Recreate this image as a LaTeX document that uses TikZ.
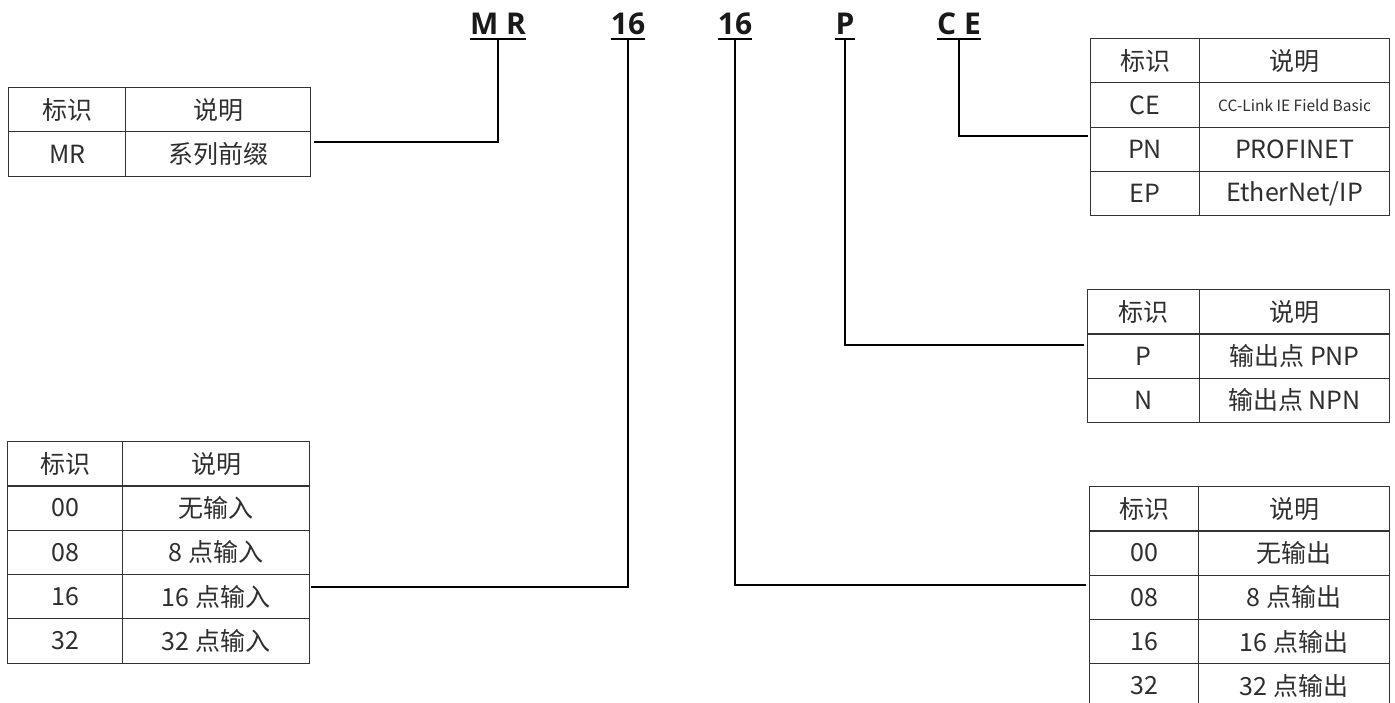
\documentclass[tikz,border=0pt]{standalone}
\usepackage{fontspec}
\setmainfont{Noto Sans CJK SC}
\newfontfamily\labfont{Open Sans}
\usetikzlibrary{matrix}
\begin{document}
\begin{tikzpicture}[x=1pt,y=-1pt,
  code/.style={font=\labfont\bfseries\fontsize{30}{30}\selectfont, inner sep=0pt, anchor=base, text=black!90},
  uline/.style={line width=2pt},
  conn/.style={line width=2pt, line cap=rect},
  tbl/.style={matrix of nodes, anchor=north west, inner sep=0pt, outer sep=0pt,
    column sep=-1.2pt, row sep=-1.2pt,
    nodes={draw=black!80, line width=1.2pt, minimum height=44.3pt, inner sep=0pt,
      anchor=center, font=\fontsize{25}{25}\selectfont, text=black!82}},
  small/.style={font=\fontsize{15.5}{15.5}\selectfont},
]
\useasboundingbox[fill=white] (0,0) rectangle (1395,703);

% code labels
\node[code] (mr)  at (498,35) {M R};
\node[code] (n1)  at (628,35) {16};
\node[code] (n2)  at (735,35) {16};
\node[code] (pp)  at (845,35) {P};
\node[code] (ce)  at (959,35) {C E};
\foreach \n in {mr,n1,n2,pp,ce}
  \draw[uline] ([yshift=-4pt]\n.base west) -- ([yshift=-4pt]\n.base east);

% tables
\matrix (tmr) [tbl, column 1/.style={nodes={minimum width=117pt}},
  column 2/.style={nodes={minimum width=185pt}}] at (8,87) {
  标识 & 说明 \\
  MR & 系列前缀 \\
};

\matrix (tce) [tbl, column 1/.style={nodes={minimum width=109pt}},
  column 2/.style={nodes={minimum width=190pt}}] at (1090,38) {
  标识 & 说明 \\
  CE & |[small]| CC-Link IE Field Basic \\
  PN & PROFINET \\
  EP & EtherNet/IP \\
};

\matrix (tp) [tbl, column 1/.style={nodes={minimum width=112pt}},
  column 2/.style={nodes={minimum width=190pt}}] at (1087,289) {
  标识 & 说明 \\
  P & 输出点 PNP \\
  N & 输出点 NPN \\
};

\matrix (tin) [tbl, column 1/.style={nodes={minimum width=115pt}},
  column 2/.style={nodes={minimum width=187pt}}] at (7,441) {
  标识 & 说明 \\
  00 & 无输入 \\
  08 & 8 点输入 \\
  16 & 16 点输入 \\
  32 & 32 点输入 \\
};

\matrix (tout) [tbl, column 1/.style={nodes={minimum width=109pt}},
  column 2/.style={nodes={minimum width=191pt}}] at (1089,486) {
  标识 & 说明 \\
  00 & 无输出 \\
  08 & 8 点输出 \\
  16 & 16 点输出 \\
  32 & 32 点输出 \\
};

% connector end points
\coordinate (emr)  at ([xshift=4pt,yshift=-10pt]tmr-2-2.north east);
\coordinate (ece)  at ([xshift=-4pt,yshift=-9pt]tce-3-1.north west);
\coordinate (ep)   at ([xshift=-5pt,yshift=-11pt]tp-2-1.north west);
\coordinate (ein)  at ([xshift=2pt,yshift=-12pt]tin-4-2.north east);
\coordinate (eout) at ([xshift=-5pt,yshift=-10pt]tout-3-1.north west);

% connectors
\draw[conn] ([yshift=-6pt]mr.base) |- (emr);
\draw[conn] ([yshift=-6pt]n1.base) |- (ein);
\draw[conn] ([yshift=-6pt]n2.base) |- (eout);
\draw[conn] ([yshift=-6pt]pp.base) |- (ep);
\draw[conn] ([yshift=-6pt]ce.base) |- (ece);
\end{tikzpicture}
\end{document}
